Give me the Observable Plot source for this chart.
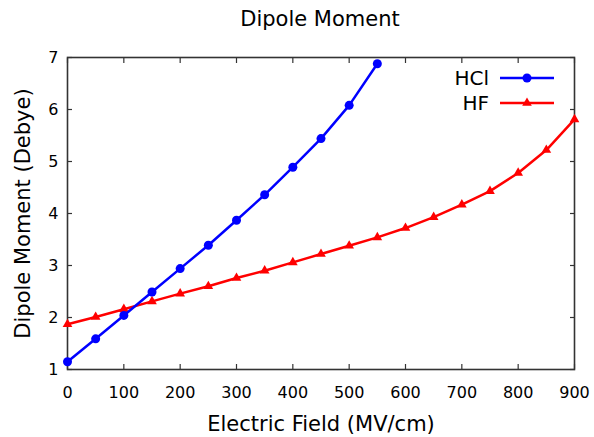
<!DOCTYPE html>
<html>
<head>
<meta charset="utf-8">
<script src="https://cdn.jsdelivr.net/npm/d3@7"></script>
<script src="https://cdn.jsdelivr.net/npm/@observablehq/plot@0.6"></script>
<style>
  html, body { margin: 0; padding: 0; background: #fff; }
  #wrap { position: relative; width: 594px; height: 437px; font-family: "DejaVu Sans", sans-serif; }
  #title { height: 40px; text-align: center; font-size: 21px; line-height: 38px; padding-left: 46px; color: #000; }
  #legend { position: absolute; left: 400px; top: 60px; }
</style>
</head>
<body>
<div id="wrap">
  <div id="title">Dipole Moment</div>
  <div id="chart"></div>
  <svg id="legend" width="170" height="60"></svg>
</div>
<script>
const seriesNames = ["HCl", "HF"];
const seriesColors = ["#0000ff", "#ff0000"];
const fieldHCl = [0, 50, 100, 150, 200, 250, 300, 350, 400, 450, 500, 550];
const momentHCl = [1.15, 1.59, 2.04, 2.49, 2.94, 3.39, 3.87, 4.36, 4.89, 5.44, 6.08, 6.88];
const fieldHF = [0, 50, 100, 150, 200, 250, 300, 350, 400, 450, 500, 550, 600, 650, 700, 750, 800, 850, 900];
const momentHF = [1.87, 2.01, 2.16, 2.31, 2.46, 2.60, 2.76, 2.90, 3.06, 3.22, 3.38, 3.54, 3.72, 3.93, 4.17, 4.43, 4.78, 5.22, 5.81];
const xTicks = [0, 100, 200, 300, 400, 500, 600, 700, 800, 900];
const yTicks = [1, 2, 3, 4, 5, 6, 7];
const xLabel = "Electric Field (MV/cm)";
const yLabel = "Dipole Moment (Debye)";

const hcl = fieldHCl.map((x, i) => ({x, y: momentHCl[i]}));
const hf = fieldHF.map((x, i) => ({x, y: momentHF[i]}));

const axisColor = "#333";
const chart = Plot.plot({
  width: 594,
  height: 397,
  marginTop: 17,
  marginBottom: 68,
  marginLeft: 67,
  marginRight: 20,
  style: {fontFamily: "DejaVu Sans, sans-serif", fontSize: "16px", color: "#000", background: "#fff", overflow: "visible"},
  x: {domain: [0, 900]},
  y: {domain: [1, 7]},
  marks: [
    Plot.axisX({ticks: xTicks, tickSize: -5, tickPadding: 22, tickFormat: d3.format("d"), label: null, stroke: axisColor, strokeWidth: 1.2, fontSize: 16}),
    Plot.axisX({anchor: "top", ticks: xTicks, tickSize: -5, tickFormat: () => "", label: null, stroke: axisColor, strokeWidth: 1.2}),
    Plot.axisY({ticks: yTicks, tickSize: -5, tickPadding: 14, tickFormat: d3.format("d"), label: null, stroke: axisColor, strokeWidth: 1.2, fontSize: 16}),
    Plot.axisY({anchor: "right", ticks: yTicks, tickSize: -5, tickFormat: () => "", label: null, stroke: axisColor, strokeWidth: 1.2}),
    Plot.frame({stroke: axisColor, strokeWidth: 1.6}),
    Plot.line(hf, {x: "x", y: "y", stroke: seriesColors[1], strokeWidth: 2.5}),
    Plot.dot(hf, {x: "x", y: "y", symbol: "triangle", r: 3.6, fill: seriesColors[1]}),
    Plot.line(hcl, {x: "x", y: "y", stroke: seriesColors[0], strokeWidth: 2.5}),
    Plot.dot(hcl, {x: "x", y: "y", r: 4.5, fill: seriesColors[0]}),
    Plot.text([xLabel], {frameAnchor: "bottom", dy: 55, fontSize: 21, lineAnchor: "middle", textAnchor: "middle", fill: "#000"}),
    Plot.text([yLabel], {frameAnchor: "left", dx: -44, rotate: -90, fontSize: 21, lineAnchor: "middle", textAnchor: "middle", fill: "#000"})
  ]
});
document.getElementById("chart").appendChild(chart);

// legend
const legend = d3.select("#legend");
seriesNames.forEach((name, i) => {
  const cy = 18 + i * 25;
  legend.append("text").attr("x", 89).attr("y", cy).attr("dy", "0.35em")
    .attr("text-anchor", "end").attr("font-family", "DejaVu Sans, sans-serif").attr("font-size", 20).text(name);
  legend.append("line").attr("x1", 100).attr("x2", 154).attr("y1", cy).attr("y2", cy)
    .attr("stroke", seriesColors[i]).attr("stroke-width", 2.5);
  if (i === 0) {
    legend.append("circle").attr("cx", 127).attr("cy", cy).attr("r", 4.5).attr("fill", seriesColors[i]);
  } else {
    legend.append("path").attr("d", d3.symbol(d3.symbolTriangle, 40)()).attr("transform", `translate(127,${cy})`).attr("fill", seriesColors[i]);
  }
});
</script>
</body>
</html>
